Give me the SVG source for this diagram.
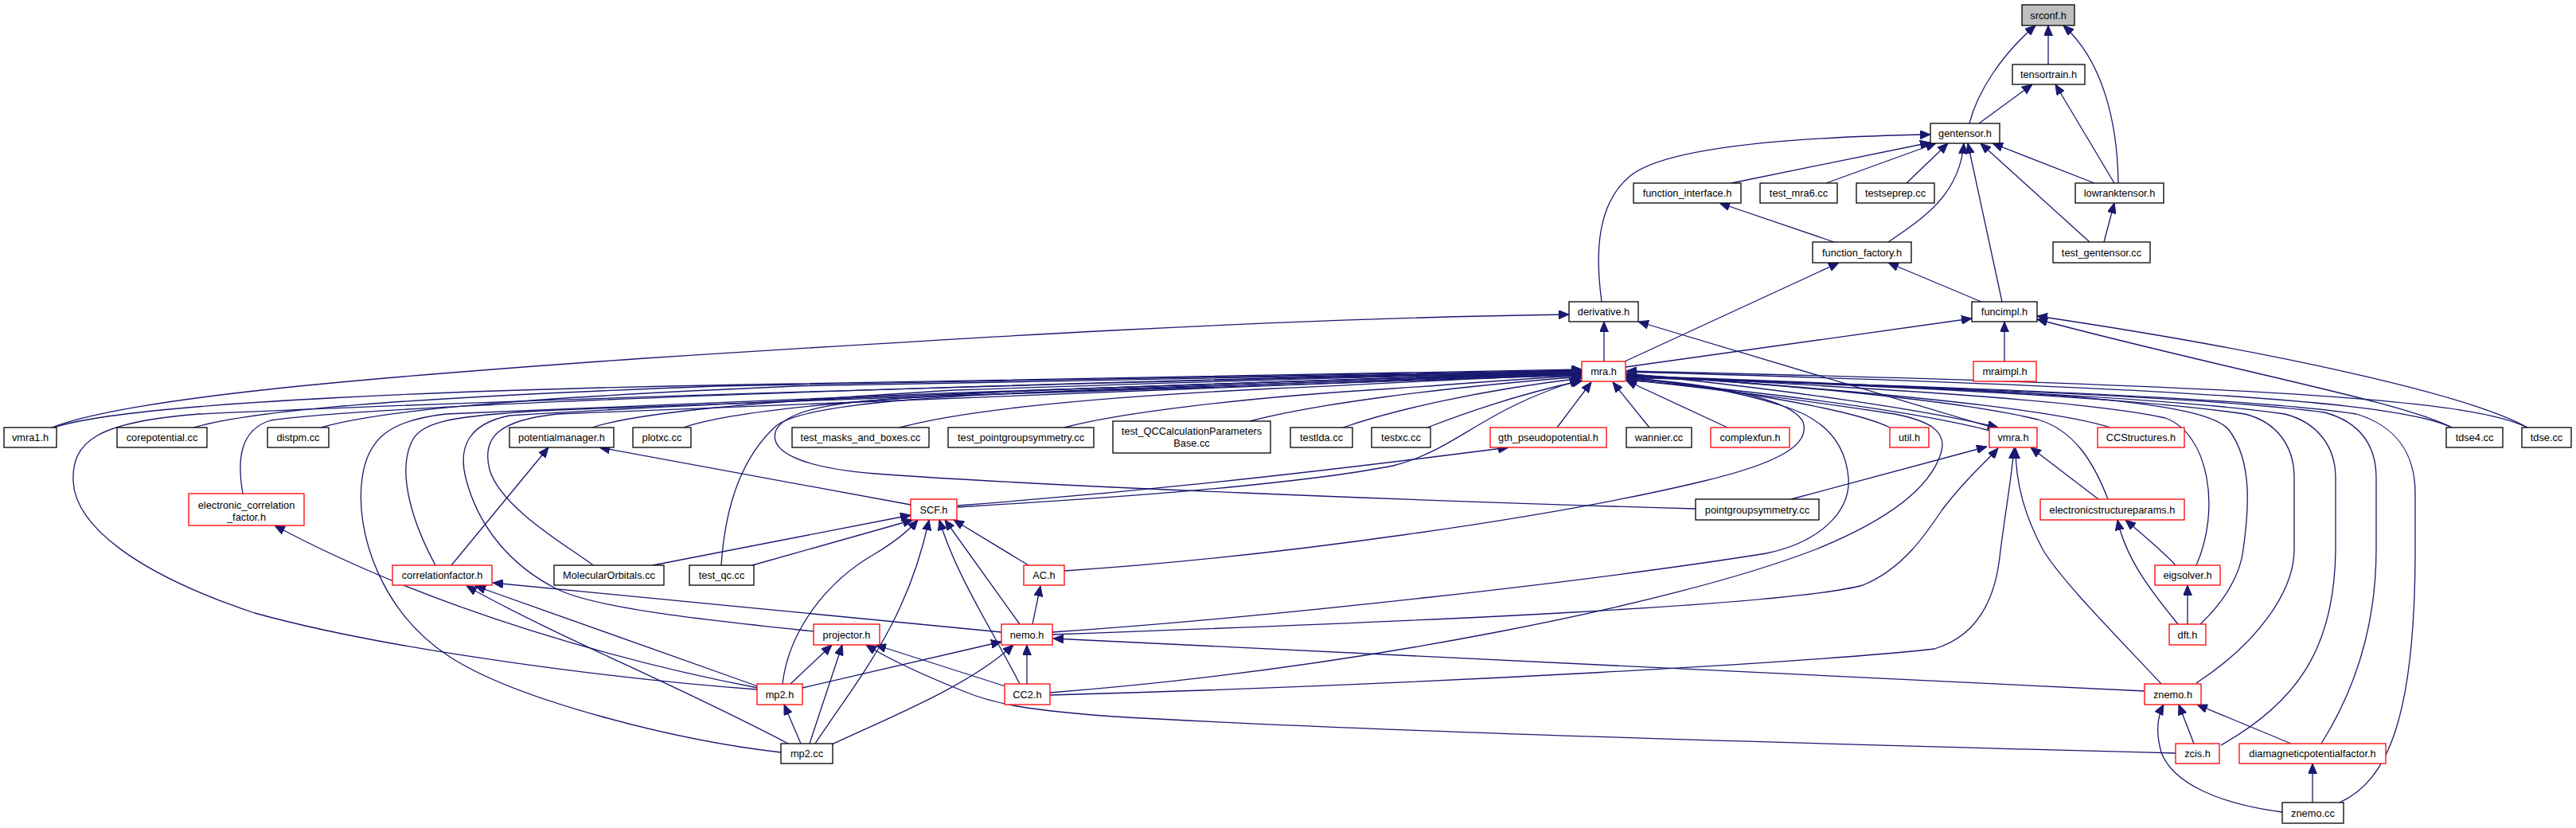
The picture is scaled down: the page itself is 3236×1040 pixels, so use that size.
<svg xmlns="http://www.w3.org/2000/svg" width="3236" height="1040" viewBox="0 0 3236 1040">
<style>
rect{fill:#fff;stroke:#000;stroke-width:1.3}
rect.r{stroke:#ff0000}
rect.g{fill:#bfbfbf}
text{font-family:"Liberation Sans",Arial,sans-serif;font-size:12.8px;text-anchor:middle;fill:#000}
#edges path{fill:none;stroke:#191970;stroke-width:1.3;marker-end:url(#a)}
</style>
<defs>
<marker id="a" markerUnits="userSpaceOnUse" markerWidth="13" markerHeight="11" viewBox="0 0 13 11" refX="13" refY="5.5" orient="auto"><path d="M0,0L13,5.5L0,11z" fill="#191970" stroke="#191970" stroke-width="1"/></marker>
</defs>
<rect x="0" y="0" width="3236" height="1040" style="fill:#fff;stroke:none"/>
<g id="edges">
<path d="M2573,81 L2573,32"/>
<path d="M2474,155 C2484,115 2515,68 2557,32"/>
<path d="M2661,230 C2660,150 2640,75 2592,32"/>
<path d="M2486,155 L2553,106"/>
<path d="M2656,230 L2582,106"/>
<path d="M2012,379 C2004,320 2005,255 2049,220 C2095,185 2250,172 2425,169"/>
<path d="M2175,230 L2425,179"/>
<path d="M2294,230 L2432,180"/>
<path d="M2395,230 L2447,180"/>
<path d="M2372,304 C2420,272 2462,242 2467,180"/>
<path d="M2515,379 L2472,180"/>
<path d="M2631,230 L2503,180"/>
<path d="M2625,304 L2488,180"/>
<path d="M2304,304 L2160,255"/>
<path d="M2041,454 L2310,330"/>
<path d="M2489,379 L2372,330"/>
<path d="M2643,304 L2656,255"/>
<path d="M2015,454 L2015,404"/>
<path d="M65,537 C160,500 450,475 810,450 C1200,425 1600,400 1971,395"/>
<path d="M2503,537 L2058,404"/>
<path d="M2042,461 L2477,400"/>
<path d="M2518,454 L2518,404"/>
<path d="M3080,537 C3020,505 2800,465 2559,401"/>
<path d="M3175,537 C3100,495 2850,440 2559,397"/>
<path d="M68,537 C160,505 600,488 1000,482 C1500,474 1800,466 1987,464"/>
<path d="M243,537 C320,515 500,500 900,485 C1400,473 1800,466 1987,465"/>
<path d="M403,537 C480,515 650,500 1000,485 C1450,474 1800,467 1987,466"/>
<path d="M744,537 C800,518 950,505 1200,490 C1550,478 1850,469 1987,469"/>
<path d="M859,537 C910,518 1050,503 1300,490 C1600,480 1850,471 1987,470"/>
<path d="M1130,537 C1200,518 1350,500 1600,488 C1800,479 1900,472 1987,471"/>
<path d="M1337,537 C1400,520 1550,500 1750,488 C1870,480 1930,474 1987,472"/>
<path d="M1570,529 C1650,508 1800,488 1987,473"/>
<path d="M1687,537 C1750,515 1860,490 1987,475"/>
<path d="M1793,537 C1850,515 1920,492 1988,478"/>
<path d="M305,620 C298,580 300,540 340,528 C500,505 1400,478 1987,466"/>
<path d="M547,710 C520,660 500,600 515,560 C525,530 560,522 700,515 C1200,495 1700,475 1987,468"/>
<path d="M745,710 C720,690 630,640 615,590 C605,550 625,528 700,520 C1200,497 1700,477 1987,469"/>
<path d="M1022,793 C900,780 750,765 700,740 C640,710 600,660 585,600 C575,560 590,532 640,522 C1000,500 1600,478 1987,468"/>
<path d="M951,866 C800,855 500,820 320,770 C170,720 95,660 92,605 C90,555 120,530 250,520 C800,495 1600,475 1987,467"/>
<path d="M981,945 C850,930 650,880 565,825 C480,770 445,670 455,600 C462,550 490,528 560,520 C1000,500 1600,477 1987,467"/>
<path d="M906,710 C910,650 925,580 975,535 C1010,505 1200,495 1500,485 C1750,478 1900,471 1987,470"/>
<path d="M2130,639 C1800,630 1300,610 1100,595 C1000,587 965,565 975,540 C990,512 1060,502 1200,497 C1500,487 1850,476 1987,471"/>
<path d="M1203,637 C1400,625 1620,610 1750,585 C1830,565 1860,515 1985,477"/>
<path d="M1956,537 L1999,480"/>
<path d="M2072,537 L2026,480"/>
<path d="M2170,537 L2043,478"/>
<path d="M2374,537 C2340,520 2250,500 2043,473"/>
<path d="M2500,541 C2420,520 2250,495 2043,477"/>
<path d="M2651,537 C2600,520 2450,498 2043,470"/>
<path d="M3080,537 C3020,508 2800,488 2043,467"/>
<path d="M3175,537 C3110,505 2900,485 2043,466"/>
<path d="M2648,627 C2630,580 2605,540 2560,527 C2450,500 2200,480 2043,471"/>
<path d="M2759,710 C2790,640 2775,545 2720,525 C2600,498 2200,480 2043,471"/>
<path d="M2764,784 C2795,755 2815,720 2818,690 C2825,640 2830,580 2800,540 C2770,505 2600,490 2043,472"/>
<path d="M2759,858 C2840,805 2882,740 2882,690 L2882,600 C2882,560 2860,530 2820,520 C2650,495 2250,480 2043,473"/>
<path d="M2790,936 C2880,885 2933,820 2934,690 L2934,600 C2934,560 2910,530 2870,520 C2700,495 2250,480 2043,473"/>
<path d="M2916,934 C2950,880 2985,800 2985,690 L2985,600 C2985,560 2965,530 2920,518 C2750,495 2250,480 2043,474"/>
<path d="M2939,1008 C3000,980 3034,900 3034,690 L3034,620 C3034,570 3010,535 2960,520 C2800,495 2250,480 2043,474"/>
<path d="M1337,717 C1600,700 1950,650 2137,605 C2230,583 2275,560 2265,530 C2250,500 2150,482 2043,475"/>
<path d="M1322,794 C1600,775 2000,730 2219,695 C2290,680 2325,640 2322,600 C2318,555 2290,525 2240,510 C2180,490 2100,478 2043,476"/>
<path d="M1319,870 C1700,840 2100,760 2281,690 C2380,650 2425,610 2438,570 C2448,540 2420,528 2380,520 C2250,500 2100,482 2043,477"/>
<path d="M2042,469 C2250,490 2420,515 2510,537"/>
<path d="M2250,627 L2496,561"/>
<path d="M1322,797 C1800,780 2250,760 2340,735 C2390,715 2420,670 2440,640 C2470,600 2495,580 2510,563"/>
<path d="M1319,873 C1800,860 2300,830 2430,815 C2480,800 2505,760 2512,700 C2518,650 2527,600 2530,563"/>
<path d="M2715,859 C2660,800 2590,730 2566,690 C2545,650 2532,610 2532,563"/>
<path d="M2636,627 L2551,562"/>
<path d="M2733,710 C2720,695 2690,670 2670,653"/>
<path d="M2736,784 C2700,740 2670,700 2660,653"/>
<path d="M2748,784 L2748,735"/>
<path d="M2905,1008 L2905,959"/>
<path d="M2867,1020 C2790,1010 2730,985 2715,945 C2708,920 2710,900 2718,885"/>
<path d="M2756,934 L2737,885"/>
<path d="M2878,934 L2760,885"/>
<path d="M1203,635 C1400,620 1600,600 1895,562"/>
<path d="M1144,634 L753,562"/>
<path d="M567,710 L689,562"/>
<path d="M820,710 L1144,647"/>
<path d="M945,710 L1147,653"/>
<path d="M983,859 C990,800 1030,735 1100,695 C1125,680 1140,668 1153,653"/>
<path d="M1024,934 C1080,850 1140,780 1167,653"/>
<path d="M1281,859 C1240,780 1200,720 1180,653"/>
<path d="M1281,784 L1187,653"/>
<path d="M1292,710 L1198,653"/>
<path d="M952,864 C800,835 550,770 345,660"/>
<path d="M952,862 L597,736"/>
<path d="M990,934 C850,860 700,800 586,736"/>
<path d="M1258,794 L619,732"/>
<path d="M1297,784 L1307,736"/>
<path d="M1008,864 L1258,806"/>
<path d="M1045,935 C1120,900 1220,860 1273,810"/>
<path d="M1290,859 L1290,810"/>
<path d="M2694,868 L1323,802"/>
<path d="M993,859 L1045,810"/>
<path d="M1017,934 L1058,810"/>
<path d="M1263,862 L1100,810"/>
<path d="M2733,946 C2300,935 1700,918 1400,900 C1300,893 1250,885 1210,868 C1160,848 1120,830 1088,810"/>
<path d="M1006,934 L985,885"/>
</g>
<g id="srconf_h"><rect class="g" x="2540" y="6" width="66" height="26"/><text x="2573" y="23.5">srconf.h</text></g>
<g id="tensortrain_h"><rect x="2528" y="81" width="91" height="25"/><text x="2573.5" y="98">tensortrain.h</text></g>
<g id="gentensor_h"><rect x="2425" y="155" width="87" height="25"/><text x="2468.5" y="172">gentensor.h</text></g>
<g id="function_interface_h"><rect x="2052" y="230" width="135" height="25"/><text x="2119.5" y="247">function_interface.h</text></g>
<g id="test_mra6_cc"><rect x="2211" y="230" width="97" height="25"/><text x="2259.5" y="247">test_mra6.cc</text></g>
<g id="testseprep_cc"><rect x="2332" y="230" width="98" height="25"/><text x="2381" y="247">testseprep.cc</text></g>
<g id="lowranktensor_h"><rect x="2607" y="230" width="111" height="25"/><text x="2662.5" y="247">lowranktensor.h</text></g>
<g id="function_factory_h"><rect x="2277" y="304" width="124" height="26"/><text x="2339" y="321.5">function_factory.h</text></g>
<g id="test_gentensor_cc"><rect x="2579" y="304" width="122" height="26"/><text x="2640" y="321.5">test_gentensor.cc</text></g>
<g id="derivative_h"><rect x="1971" y="379" width="87" height="25"/><text x="2014.5" y="396">derivative.h</text></g>
<g id="funcimpl_h"><rect x="2477" y="379" width="82" height="25"/><text x="2518" y="396">funcimpl.h</text></g>
<g id="mra_h"><rect class="r" x="1987" y="454" width="55" height="25"/><text x="2014.5" y="471">mra.h</text></g>
<g id="mraimpl_h"><rect class="r" x="2479" y="454" width="79" height="25"/><text x="2518.5" y="471">mraimpl.h</text></g>
<g id="vmra1_h"><rect x="5" y="537" width="66" height="25"/><text x="38" y="554">vmra1.h</text></g>
<g id="corepotential_cc"><rect x="147" y="537" width="113" height="25"/><text x="203.5" y="554">corepotential.cc</text></g>
<g id="distpm_cc"><rect x="336" y="537" width="77" height="25"/><text x="374.5" y="554">distpm.cc</text></g>
<g id="potentialmanager_h"><rect x="640" y="537" width="131" height="25"/><text x="705.5" y="554">potentialmanager.h</text></g>
<g id="plotxc_cc"><rect x="795" y="537" width="73" height="25"/><text x="831.5" y="554">plotxc.cc</text></g>
<g id="test_masks_and_boxes_cc"><rect x="995" y="537" width="172" height="25"/><text x="1081" y="554">test_masks_and_boxes.cc</text></g>
<g id="test_pointgroupsymmetry_cc"><rect x="1191" y="537" width="183" height="25"/><text x="1282.5" y="554">test_pointgroupsymmetry.cc</text></g>
<g id="test_QCCalculationParametersBase_cc"><rect x="1398" y="529" width="198" height="40"/><text x="1497" y="545.5">test_QCCalculationParameters</text><text x="1497" y="560.5">Base.cc</text></g>
<g id="testlda_cc"><rect x="1621" y="537" width="78" height="25"/><text x="1660" y="554">testlda.cc</text></g>
<g id="testxc_cc"><rect x="1723" y="537" width="74" height="25"/><text x="1760" y="554">testxc.cc</text></g>
<g id="gth_pseudopotential_h"><rect class="r" x="1872" y="537" width="146" height="25"/><text x="1945" y="554">gth_pseudopotential.h</text></g>
<g id="wannier_cc"><rect x="2043" y="537" width="82" height="25"/><text x="2084" y="554">wannier.cc</text></g>
<g id="complexfun_h"><rect class="r" x="2149" y="537" width="99" height="25"/><text x="2198.5" y="554">complexfun.h</text></g>
<g id="util_h"><rect class="r" x="2374" y="537" width="49" height="25"/><text x="2398.5" y="554">util.h</text></g>
<g id="vmra_h"><rect class="r" x="2499" y="537" width="60" height="25"/><text x="2529" y="554">vmra.h</text></g>
<g id="CCStructures_h"><rect class="r" x="2635" y="537" width="109" height="25"/><text x="2689.5" y="554">CCStructures.h</text></g>
<g id="tdse4_cc"><rect x="3073" y="537" width="71" height="25"/><text x="3108.5" y="554">tdse4.cc</text></g>
<g id="tdse_cc"><rect x="3168" y="537" width="62" height="25"/><text x="3199" y="554">tdse.cc</text></g>
<g id="electronic_correlation_factor_h"><rect class="r" x="237" y="620" width="145" height="40"/><text x="309.5" y="638.5">electronic_correlation</text><text x="309.5" y="653.5">_factor.h</text></g>
<g id="SCF_h"><rect class="r" x="1144" y="627" width="58" height="26"/><text x="1173" y="644.5">SCF.h</text></g>
<g id="pointgroupsymmetry_cc"><rect x="2130" y="627" width="155" height="26"/><text x="2207.5" y="644.5">pointgroupsymmetry.cc</text></g>
<g id="electronicstructureparams_h"><rect class="r" x="2563" y="627" width="181" height="26"/><text x="2653.5" y="644.5">electronicstructureparams.h</text></g>
<g id="correlationfactor_h"><rect class="r" x="493" y="710" width="125" height="25"/><text x="555.5" y="727">correlationfactor.h</text></g>
<g id="MolecularOrbitals_cc"><rect x="696" y="710" width="138" height="25"/><text x="765" y="727">MolecularOrbitals.cc</text></g>
<g id="test_qc_cc"><rect x="866" y="710" width="81" height="25"/><text x="906.5" y="727">test_qc.cc</text></g>
<g id="AC_h"><rect class="r" x="1286" y="710" width="51" height="25"/><text x="1311.5" y="727">AC.h</text></g>
<g id="eigsolver_h"><rect class="r" x="2707" y="710" width="82" height="25"/><text x="2748" y="727">eigsolver.h</text></g>
<g id="projector_h"><rect class="r" x="1022" y="784" width="83" height="26"/><text x="1063.5" y="801.5">projector.h</text></g>
<g id="nemo_h"><rect class="r" x="1258" y="784" width="64" height="26"/><text x="1290" y="801.5">nemo.h</text></g>
<g id="dft_h"><rect class="r" x="2725" y="784" width="46" height="26"/><text x="2748" y="801.5">dft.h</text></g>
<g id="mp2_h"><rect class="r" x="951" y="859" width="57" height="26"/><text x="979.5" y="876.5">mp2.h</text></g>
<g id="CC2_h"><rect class="r" x="1262" y="859" width="57" height="26"/><text x="1290.5" y="876.5">CC2.h</text></g>
<g id="znemo_h"><rect class="r" x="2694" y="859" width="71" height="26"/><text x="2729.5" y="876.5">znemo.h</text></g>
<g id="mp2_cc"><rect x="981" y="934" width="65" height="25"/><text x="1013.5" y="951">mp2.cc</text></g>
<g id="zcis_h"><rect class="r" x="2733" y="934" width="55" height="25"/><text x="2760.5" y="951">zcis.h</text></g>
<g id="diamagneticpotentialfactor_h"><rect class="r" x="2813" y="934" width="184" height="25"/><text x="2905" y="951">diamagneticpotentialfactor.h</text></g>
<g id="znemo_cc"><rect x="2867" y="1008" width="77" height="26"/><text x="2905.5" y="1025.5">znemo.cc</text></g>
</svg>
